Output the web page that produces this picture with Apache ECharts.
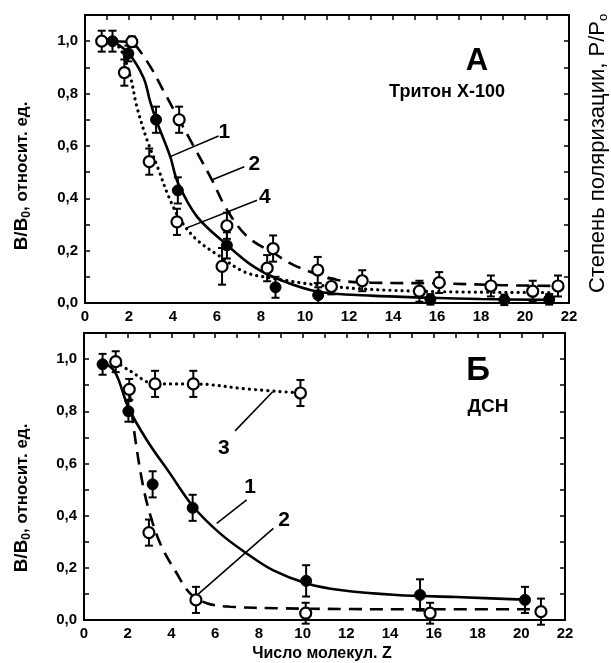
<!DOCTYPE html>
<html><head><meta charset="utf-8">
<script src="https://cdn.jsdelivr.net/npm/echarts@6/dist/echarts.min.js"></script>
<style>html,body{margin:0;padding:0;background:#fff}#c{width:611px;height:663px}</style>
</head><body><div id="c"></div>
<script>
// ---- Panel A (Тритон Х-100) measured points ----
const aX1 = [1.25, 1.97, 3.23, 4.22, 6.45, 8.66, 10.6, 15.7, 19.06, 21.1];
const aY1 = [1.0, 0.953, 0.70, 0.43, 0.22, 0.06, 0.03, 0.014, 0.012, 0.014];
const aE1 = [0.04, 0.03, 0.05, 0.05, 0.05, 0.04, 0.03, 0.02, 0.02, 0.02];
const aX2 = [2.13, 4.28, 6.45, 8.55, 10.58, 12.6, 16.1, 18.45, 21.5];
const aY2 = [0.998, 0.70, 0.295, 0.208, 0.126, 0.085, 0.078, 0.065, 0.065];
const aE2 = [0.02, 0.05, 0.05, 0.05, 0.05, 0.04, 0.04, 0.04, 0.04];
const aX4 = [0.76, 1.79, 2.92, 4.18, 6.23, 8.28, 11.2, 15.2, 20.35];
const aY4 = [1.0, 0.88, 0.54, 0.31, 0.14, 0.133, 0.063, 0.045, 0.045];
const aE4 = [0.04, 0.05, 0.05, 0.05, 0.07, 0.05, 0.03, 0.04, 0.04];
// fitted curves
const aFit1X = [1.25, 1.97, 2.66, 2.96, 3.23, 3.87, 4.22, 5.09, 6.45, 7.67, 8.88, 10.6, 13, 15.7, 18, 21.2];
const aFit1Y = [1.0, 0.955, 0.86, 0.77, 0.70, 0.56, 0.46, 0.33, 0.222, 0.139, 0.088, 0.043, 0.028, 0.02, 0.015, 0.012];
const aFit2X = [1.3, 2.13, 2.43, 3.04, 3.57, 4.28, 4.93, 5.77, 6.45, 7.37, 8.58, 9.64, 11.47, 13, 16, 19, 21.5];
const aFit2Y = [1.0, 0.995, 0.97, 0.893, 0.81, 0.70, 0.60, 0.47, 0.356, 0.254, 0.19, 0.139, 0.088, 0.078, 0.075, 0.068, 0.065];
const aFit4X = [0.76, 1.52, 2.05, 2.35, 2.81, 3.34, 3.8, 4.33, 5.09, 6.15, 7.21, 8.12, 11.2, 15.2, 21.2];
const aFit4Y = [1.0, 0.98, 0.867, 0.752, 0.625, 0.51, 0.407, 0.318, 0.241, 0.177, 0.12, 0.10, 0.063, 0.045, 0.04];

// ---- Panel Б (ДСН) measured points ----
const bX1 = [0.85, 2.03, 3.14, 4.97, 10.16, 15.37, 20.17];
const bY1 = [0.98, 0.80, 0.52, 0.43, 0.15, 0.096, 0.077];
const bE1 = [0.04, 0.04, 0.05, 0.05, 0.06, 0.06, 0.05];
const bX2 = [2.07, 2.97, 5.12, 10.14, 15.83, 20.9];
const bY2 = [0.884, 0.335, 0.077, 0.026, 0.026, 0.032];
const bE2 = [0.04, 0.05, 0.05, 0.04, 0.04, 0.05];
const bX3 = [1.45, 3.25, 5.0, 9.9];
const bY3 = [0.99, 0.905, 0.905, 0.87];
const bE3 = [0.04, 0.05, 0.05, 0.05];
const bFit1X = [0.85, 1.42, 2.03, 2.87, 3.93, 5.0, 6.22, 7.44, 8.66, 10.19, 11.71, 14.3, 17, 20.4];
const bFit1Y = [0.99, 0.95, 0.815, 0.69, 0.562, 0.434, 0.332, 0.255, 0.19, 0.14, 0.115, 0.096, 0.088, 0.077];
const bFit2X = [2.07, 2.3, 2.71, 3.1, 3.55, 4.24, 4.85, 5.61, 6.68, 8.97, 12, 16, 21];
const bFit2Y = [0.884, 0.72, 0.51, 0.383, 0.281, 0.179, 0.102, 0.064, 0.051, 0.045, 0.042, 0.041, 0.041];
const bFit3X = [1.45, 2.1, 3.25, 5.0, 7.5, 9.9];
const bFit3Y = [0.99, 0.955, 0.905, 0.905, 0.885, 0.87];

// ---- curve number labels & leader lines (data coords) ----
const aLabels = ['1', '2', '4'];
const aLabelPos = [[6.33, 0.652], [7.7, 0.529], [8.17, 0.403]];
const aLeaders = [[[3.9, 0.56], [6.07, 0.638]], [[5.73, 0.469], [7.24, 0.52]], [[4.6, 0.286], [7.82, 0.392]]];
const bLabels = ['3', '1', '2'];
const bLabelPos = [[6.4, 0.658], [7.6, 0.51], [9.15, 0.383]];
const bLeaders = [[[6.91, 0.725], [8.63, 0.875]], [[6.07, 0.37], [7.44, 0.46]], [[5.08, 0.089], [8.66, 0.351]]];

const xTickLabels = ['0','2','4','6','8','10','12','14','16','18','20','22'];

const FONT = '"Liberation Sans", Arial, sans-serif';
const zip = (xs, ys) => xs.map((x, i) => [x, ys[i]]);
const zip3 = (xs, ys, es) => xs.map((x, i) => [x, ys[i], es[i]]);

function yFmt(v) {
  const r = Math.round(v * 10);
  return (r % 2 === 0 && r <= 10) ? (r / 10).toFixed(1).replace('.', ',') : '';
}

function errSeries(xi, yi, data) {
  return {
    type: 'custom', xAxisIndex: xi, yAxisIndex: yi, z: 3, silent: true,
    data: data,
    renderItem: function (params, api) {
      const x = api.value(0), y = api.value(1), e = api.value(2);
      const p1 = api.coord([x, y + e]), p2 = api.coord([x, y - e]);
      const st = { stroke: '#000', lineWidth: 2 };
      return { type: 'group', children: [
        { type: 'line', shape: { x1: p1[0], y1: p1[1], x2: p2[0], y2: p2[1] }, style: st },
        { type: 'line', shape: { x1: p1[0] - 4, y1: p1[1], x2: p1[0] + 4, y2: p1[1] }, style: st },
        { type: 'line', shape: { x1: p2[0] - 4, y1: p2[1], x2: p2[0] + 4, y2: p2[1] }, style: st }
      ]};
    }
  };
}
function ptSeries(xi, yi, data, filled) {
  return {
    type: 'scatter', xAxisIndex: xi, yAxisIndex: yi, z: 5, symbol: 'circle', symbolSize: 11,
    data: data, silent: true,
    itemStyle: filled ? { color: '#000', borderColor: '#000', borderWidth: 1, opacity: 1 }
                      : { color: '#fff', borderColor: '#000', borderWidth: 2.2, opacity: 1 }
  };
}
function fitSeries(xi, yi, data, type) {
  const ls = { color: '#000', width: 2.6, type: 'solid' };
  if (type === 'dash') { ls.type = [13, 8]; }
  if (type === 'dot') { ls.type = [0.1, 6]; ls.cap = 'round'; ls.width = 3.2; }
  return { type: 'line', xAxisIndex: xi, yAxisIndex: yi, z: 2, data: data, smooth: 0.35,
    showSymbol: false, symbol: 'none', lineStyle: ls, silent: true };
}
function leaderSeries(xi, yi, seg) {
  return { type: 'line', xAxisIndex: xi, yAxisIndex: yi, z: 2, data: seg, showSymbol: false, symbol: 'none',
    lineStyle: { color: '#000', width: 1.6 }, silent: true };
}
function labelSeries(xi, yi, pos, labels) {
  return { type: 'scatter', xAxisIndex: xi, yAxisIndex: yi, z: 6, symbolSize: 0, silent: true,
    itemStyle: { opacity: 1 },
    data: pos.map((p, i) => ({ value: p, name: labels[i] })),
    label: { show: true, position: 'inside', formatter: '{b}', color: '#000', fontSize: 21, fontFamily: FONT, fontWeight: 'bold' } };
}

const tickStyle = { inside: true, length: 5, lineStyle: { color: '#000', width: 1.5 } };
function xAxes(gi) {
  return [
    { gridIndex: gi, type: 'value', min: 0, max: 22, interval: 2, position: 'bottom',
      axisLine: { onZero: false, lineStyle: { color: '#000', width: 2 } }, axisTick: { show: false }, splitLine: { show: false },
      axisLabel: { color: '#000', fontSize: 15, fontWeight: 'bold', fontFamily: FONT, margin: 6,
        formatter: v => xTickLabels[Math.round(v / 2)] } },
    { gridIndex: gi, type: 'value', min: 0, max: 22, interval: 1, position: 'top',
      axisLine: { onZero: false, lineStyle: { color: '#000', width: 2 } }, axisTick: tickStyle,
      axisLabel: { show: false }, splitLine: { show: false } }
  ];
}
function yAxes(gi) {
  return [
    { gridIndex: gi, type: 'value', min: 0, max: 1.1, interval: 0.1, position: 'left',
      axisLine: { show: true, onZero: false, lineStyle: { color: '#000', width: 2 } },
      axisTick: tickStyle, splitLine: { show: false },
      axisLabel: { color: '#000', fontSize: 15, fontWeight: 'bold', fontFamily: FONT, margin: 7, formatter: yFmt } },
    { gridIndex: gi, type: 'value', min: 0, max: 1.1, interval: 0.1, position: 'right',
      axisLine: { show: true, onZero: false, lineStyle: { color: '#000', width: 2 } },
      axisTick: tickStyle, splitLine: { show: false },
      axisLabel: { show: false } }
  ];
}

const chart = echarts.init(document.getElementById('c'), null, { renderer: 'canvas' });
const series = [
  fitSeries(0, 0, zip(aFit1X, aFit1Y), 'solid'),
  fitSeries(0, 0, zip(aFit2X, aFit2Y), 'dash'),
  fitSeries(0, 0, zip(aFit4X, aFit4Y), 'dot'),
  errSeries(0, 0, zip3(aX1, aY1, aE1)),
  errSeries(0, 0, zip3(aX2, aY2, aE2)),
  errSeries(0, 0, zip3(aX4, aY4, aE4)),
  ptSeries(0, 0, zip(aX2, aY2), false),
  ptSeries(0, 0, zip(aX4, aY4), false),
  ptSeries(0, 0, zip(aX1, aY1), true),
  fitSeries(2, 2, zip(bFit1X, bFit1Y), 'solid'),
  fitSeries(2, 2, zip(bFit2X, bFit2Y), 'dash'),
  fitSeries(2, 2, zip(bFit3X, bFit3Y), 'dot'),
  errSeries(2, 2, zip3(bX1, bY1, bE1)),
  errSeries(2, 2, zip3(bX2, bY2, bE2)),
  errSeries(2, 2, zip3(bX3, bY3, bE3)),
  ptSeries(2, 2, zip(bX2, bY2), false),
  ptSeries(2, 2, zip(bX3, bY3), false),
  ptSeries(2, 2, zip(bX1, bY1), true),
  labelSeries(0, 0, aLabelPos, aLabels),
  labelSeries(2, 2, bLabelPos, bLabels)
];
aLeaders.forEach(s => series.push(leaderSeries(0, 0, s)));
bLeaders.forEach(s => series.push(leaderSeries(2, 2, s)));

const yNameRich = {
  b: { fontSize: 19, fontWeight: 'bold', fontFamily: FONT, color: '#000' },
  s: { fontSize: 12, fontWeight: 'bold', fontFamily: FONT, color: '#000', padding: [10, 0, 0, 0] },
  n: { fontSize: 17, fontWeight: 'bold', fontFamily: FONT, color: '#000' }
};
const yNameText = '{b|B/B}{s|0}{n|, относит. ед.}';

chart.setOption({
  animation: false,
  backgroundColor: '#fff',
  grid: [
    { left: 85, right: 42, top: 15, height: 288 },
    { left: 84, right: 46, top: 333, height: 287 }
  ],
  xAxis: xAxes(0).concat(xAxes(1)),
  yAxis: yAxes(0).concat(yAxes(1)),
  series: series,
  graphic: [
    { type: 'text', x: 22, y: 176, rotation: Math.PI / 2,
      style: { text: yNameText, rich: yNameRich, align: 'center', verticalAlign: 'middle' } },
    { type: 'text', x: 22, y: 498, rotation: Math.PI / 2,
      style: { text: yNameText, rich: yNameRich, align: 'center', verticalAlign: 'middle' } },
    { type: 'text', x: 598, y: 293, rotation: Math.PI / 2,
      style: { text: '{a|Степень поляризации, Р/Р}{s|о}',
        rich: { a: { fontSize: 22, fontFamily: FONT, color: '#000' },
                s: { fontSize: 13, fontFamily: FONT, color: '#000', padding: [10, 0, 0, 0] } },
        align: 'left', verticalAlign: 'middle' } },
    { type: 'text', x: 477, y: 61, style: { text: 'А', font: 'bold 31px ' + FONT, fill: '#000', align: 'center', verticalAlign: 'middle' } },
    { type: 'text', x: 447, y: 92, style: { text: 'Тритон Х-100', font: 'bold 18px ' + FONT, fill: '#000', align: 'center', verticalAlign: 'middle' } },
    { type: 'text', x: 478, y: 371, style: { text: 'Б', font: 'bold 33px ' + FONT, fill: '#000', align: 'center', verticalAlign: 'middle' } },
    { type: 'text', x: 488, y: 407, style: { text: 'ДСН', font: 'bold 19px ' + FONT, fill: '#000', align: 'center', verticalAlign: 'middle' } },
    { type: 'text', x: 322, y: 654, style: { text: 'Число молекул. Z', font: 'bold 16px ' + FONT, fill: '#000', align: 'center', verticalAlign: 'middle' } }
  ]
});
</script></body></html>
